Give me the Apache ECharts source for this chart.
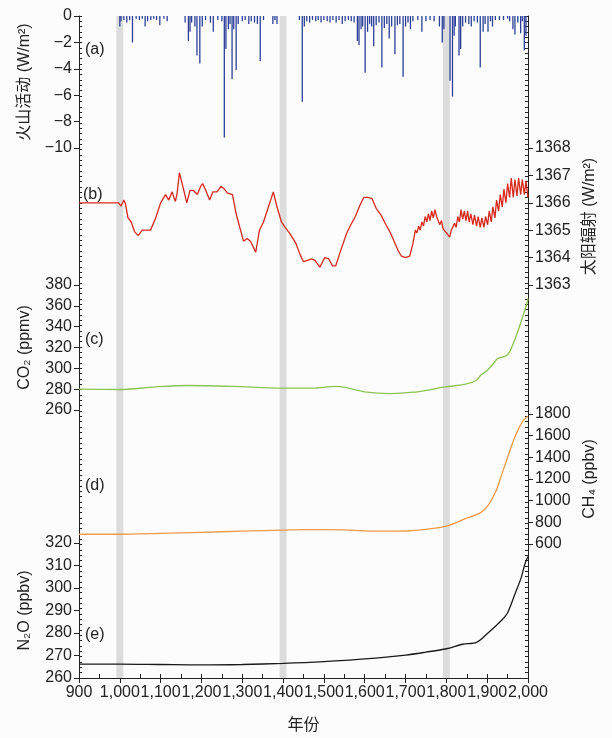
<!DOCTYPE html>
<html>
<head>
<meta charset="utf-8">
<script src="https://cdn.jsdelivr.net/npm/echarts@6/dist/echarts.min.js"></script>
<style>
  html, body { margin: 0; padding: 0; background: #fcfcfc; }
  #chart { width: 612px; height: 738px; }
</style>
</head>
<body>
<div id="chart"></div>
<script>
// (a) volcanic forcing, W/m2
var volcYears = [1000, 1003, 1010, 1017, 1024, 1031, 1040, 1048, 1055, 1062, 1068, 1076, 1083, 1090, 1098, 1108, 1116,
  1160, 1168, 1172, 1176, 1184, 1189, 1196, 1202, 1210, 1222, 1229, 1240, 1250, 1256, 1260, 1266, 1270, 1275, 1279,
  1285, 1290, 1300, 1307, 1316, 1322, 1330, 1337, 1344, 1352, 1375, 1380, 1385, 1440, 1447, 1452, 1458, 1465, 1472,
  1480, 1486, 1493, 1500, 1508, 1515, 1522, 1530, 1537, 1545, 1552, 1560, 1567, 1574, 1582, 1586, 1591, 1595, 1601,
  1607, 1612, 1617, 1622, 1628, 1635, 1642, 1648, 1654, 1660, 1666, 1674, 1680, 1686, 1694, 1700, 1706, 1712, 1718,
  1730, 1740, 1750, 1760, 1770, 1783, 1790, 1794, 1809, 1815, 1819, 1822, 1831, 1835, 1840, 1847, 1855, 1861, 1868,
  1876, 1883, 1890, 1895, 1902, 1908, 1913, 1920, 1930, 1940, 1950, 1955, 1963, 1968, 1975, 1982, 1986, 1991, 1995];
var volcVals = [-0.8, -0.4, -0.3, -0.5, -0.3, -2.0, -0.2, -0.3, -0.2, -0.8, -0.4, -0.3, -0.2, -0.3, -0.7, -0.2, -0.4,
  -0.5, -1.9, -1.2, -0.5, -0.8, -3.0, -3.6, -0.8, -0.3, -0.5, -1.2, -0.3, -0.4, -9.2, -2.5, -1.0, -0.6, -4.8, -1.0,
  -4.1, -0.6, -0.4, -0.3, -0.6, -0.4, -0.5, -0.6, -3.4, -0.3, -0.6, -0.3, -0.6, -0.3, -6.5, -0.8, -0.4, -0.5, -0.3,
  -0.4, -0.3, -0.5, -0.3, -0.4, -0.5, -0.3, -0.5, -0.3, -0.6, -0.4, -0.3, -0.4, -0.5, -1.9, -2.2, -1.0, -0.8, -4.3,
  -1.2, -0.6, -0.8, -2.3, -0.7, -0.5, -3.9, -0.9, -0.6, -1.7, -0.8, -2.9, -0.7, -0.6, -4.6, -0.8, -0.5, -1.0, -0.4,
  -0.3, -1.2, -0.4, -0.3, -0.4, -0.8, -2.0, -1.0, -4.9, -6.1, -1.5, -0.8, -3.0, -2.5, -0.8, -0.5, -0.6, -0.8, -0.4,
  -0.5, -3.9, -1.2, -0.6, -1.2, -0.4, -0.8, -0.3, -0.3, -0.3, -0.2, -0.4, -1.0, -1.4, -0.5, -1.3, -0.4, -2.6, -1.5];

// (b) solar irradiance, W/m2
var solarYears = [900, 997, 1003, 1010, 1014, 1020, 1028, 1036, 1045, 1055, 1068, 1075, 1088, 1100, 1112, 1120, 1128,
  1136, 1140, 1146, 1152, 1156, 1164, 1172, 1180, 1190, 1198, 1203, 1212, 1220, 1228, 1238, 1248, 1256, 1264, 1276,
  1285, 1294, 1303, 1312, 1320, 1333, 1342, 1352, 1363, 1376, 1386, 1396, 1405, 1418, 1432, 1442, 1450, 1460, 1470,
  1478, 1490, 1502, 1512, 1521, 1529, 1542, 1556, 1566, 1577, 1588, 1598, 1607, 1618, 1628, 1640, 1652, 1663, 1672,
  1682, 1690, 1700, 1710, 1718, 1724, 1728, 1732, 1736, 1740, 1744, 1748, 1752, 1756, 1760, 1764, 1768, 1772, 1776,
  1780, 1784, 1788, 1792, 1796, 1800, 1804, 1808, 1812, 1816, 1820, 1824, 1828, 1832, 1836, 1840, 1844, 1848, 1852,
  1856, 1860, 1865, 1869, 1874, 1878, 1883, 1887, 1892, 1896, 1901, 1905, 1910, 1914, 1919, 1923, 1928, 1932, 1937,
  1941, 1946, 1950, 1955, 1959, 1964, 1968, 1973, 1977, 1982, 1986, 1991, 1995, 2000];
var solarVals = [1366.0, 1366.0, 1365.88, 1366.1, 1365.95, 1365.45, 1365.3, 1364.95, 1364.8, 1365.0, 1365.0, 1365.0,
  1365.45, 1366.0, 1366.3, 1366.1, 1366.4, 1366.05, 1366.3, 1367.1, 1366.75, 1366.5, 1366.0, 1366.45, 1366.45, 1366.3,
  1366.6, 1366.7, 1366.4, 1366.1, 1366.4, 1366.4, 1366.6, 1366.5, 1366.35, 1366.3, 1365.6, 1365.1, 1364.6, 1364.7,
  1364.6, 1364.2, 1365.0, 1365.3, 1365.8, 1366.4, 1365.8, 1365.3, 1365.1, 1364.85, 1364.5, 1364.1, 1363.85, 1363.9,
  1363.95, 1363.9, 1363.65, 1364.0, 1363.95, 1363.7, 1363.7, 1364.3, 1364.9, 1365.2, 1365.5, 1365.9, 1366.2, 1366.2,
  1366.15, 1365.8, 1365.55, 1365.2, 1364.9, 1364.6, 1364.25, 1364.05, 1364.0, 1364.05, 1364.5, 1365.0, 1364.9, 1365.15,
  1365.0, 1365.3, 1365.15, 1365.5, 1365.3, 1365.6, 1365.35, 1365.7, 1365.45, 1365.75, 1365.5, 1365.55, 1365.2, 1365.35,
  1365.05, 1365.1, 1364.9, 1364.95, 1364.75, 1365.0, 1364.95, 1365.25, 1365.1, 1365.5, 1365.3, 1365.75, 1365.4, 1365.7,
  1365.35, 1365.7, 1365.3, 1365.6, 1365.2, 1365.55, 1365.15, 1365.5, 1365.1, 1365.45, 1365.1, 1365.5, 1365.2, 1365.7,
  1365.3, 1365.85, 1365.45, 1366.1, 1365.7, 1366.3, 1365.85, 1366.5, 1366.0, 1366.7, 1366.2, 1366.9, 1366.2, 1366.85,
  1366.25, 1366.9, 1366.3, 1366.85, 1366.3, 1366.8, 1366.2];

// (c) CO2, ppmv
var co2Years = [900, 1000, 1088, 1165, 1280, 1395, 1471, 1529, 1548, 1605, 1663, 1720, 1758, 1797, 1845, 1874, 1884,
  1898, 1912, 1926, 1945, 1955, 1967, 1979, 1988, 1996, 2000];
var co2Vals = [280.0, 279.7, 282.2, 283.5, 282.6, 281.0, 281.0, 282.6, 282.0, 277.1, 275.8, 277.1, 279.4, 282.2, 284.5,
  288.6, 293.4, 297.3, 303.0, 309.4, 311.7, 315.8, 327.0, 340.0, 351.0, 360.6, 367.0];

// (d) CH4, ppbv
var ch4Years = [900, 1000, 1100, 1200, 1300, 1400, 1450, 1500, 1550, 1600, 1650, 1700, 1750, 1800, 1845, 1884, 1902,
  1921, 1936, 1950, 1969, 1988, 2000];
var ch4Vals = [690, 690, 698, 708, 718, 728, 733, 733, 730, 722, 718, 720, 735, 765, 832, 890, 955, 1084, 1245, 1400,
  1600, 1740, 1780];

// (e) N2O, ppbv
var n2oYears = [900, 1000, 1100, 1200, 1300, 1400, 1500, 1600, 1700, 1750, 1800, 1840, 1874, 1902, 1936, 1950, 1969,
  1983, 1993, 2000];
var n2oVals = [266.2, 266.2, 266.0, 265.8, 266.0, 266.5, 267.3, 268.5, 270.2, 271.5, 273.0, 275.0, 275.8, 280.0, 285.8,
  289.0, 297.8, 304.4, 311.0, 314.0];

var bandYears = [1000, 1400, 1800];
var panelTags = ['(a)', '(b)', '(c)', '(d)', '(e)'];

function zip(xs, ys) {
  return xs.map(function (x, i) { return [x, ys[i]]; });
}

var dom = document.getElementById('chart');
var myChart = echarts.init(dom);

var ink = '#222';
var font = 'Liberation Sans, Arial, sans-serif';
var cjk = '"Noto Sans CJK SC", sans-serif';
var L = 79, R = 84;

// one grid per panel, grid 5 is the outer frame
var grids = [
  { left: L, right: R, top: 16, height: 132 },
  { left: L, right: R, top: 148, height: 137 },
  { left: L, right: R, top: 285, height: 125 },
  { left: L, right: R, top: 414, height: 130 },
  { left: L, right: R, top: 543, height: 135 },
  { left: L, right: R, top: 16, height: 662 }
];

var xAxes = [];
for (var i = 0; i < 5; i++) {
  xAxes.push({ gridIndex: i, type: 'value', min: 900, max: 2000, show: false });
}
xAxes.push({
  gridIndex: 5, type: 'value', min: 900, max: 2000, interval: 100, position: 'bottom',
  axisLine: { lineStyle: { color: ink, width: 1 } },
  axisTick: { length: 5, lineStyle: { color: ink } },
  axisLabel: { color: ink, fontSize: 16, fontFamily: font, margin: 7 },
  splitLine: { show: false },
  name: '年份', nameLocation: 'middle', nameGap: 38,
  nameTextStyle: { color: ink, fontSize: 16, fontFamily: cjk }
});
xAxes.push({
  gridIndex: 5, type: 'value', min: 900, max: 2000, interval: 50, position: 'top',
  axisLine: { lineStyle: { color: ink, width: 1 } },
  axisTick: { length: 4, lineStyle: { color: ink } },
  axisLabel: { show: false },
  splitLine: { show: false }
});

function panelY(grid, min, max, step, pos, name, gap) {
  return {
    gridIndex: grid, type: 'value', min: min, max: max, interval: step, position: pos,
    axisLine: { show: false },
    axisTick: { show: true, length: 5, lineStyle: { color: ink } },
    axisLabel: {
      color: ink, fontSize: 16, fontFamily: font, margin: 7,
      formatter: function (v) { return String(v).replace('-', '\u2212'); }
    },
    splitLine: { show: false },
    name: name, nameLocation: 'middle', nameGap: gap, nameRotate: 90,
    nameTextStyle: { color: ink, fontSize: 16, fontFamily: 'Liberation Sans, "Noto Sans CJK SC", sans-serif' }
  };
}

function frameY(pos) {
  return {
    gridIndex: 5, type: 'value', min: 0, max: 124, interval: 1, position: pos,
    axisLine: { show: true, lineStyle: { color: ink, width: 1 } },
    axisTick: { inside: true, length: 3, lineStyle: { color: ink } },
    axisLabel: { show: false },
    splitLine: { show: false }
  };
}

var yAxes = [
  panelY(0, -10, 0, 2, 'left', '火山活动 (W/m²)', 46),
  panelY(1, 1363, 1368, 1, 'right', '太阳辐射 (W/m²)', 54),
  panelY(2, 260, 380, 20, 'left', 'CO₂ (ppmv)', 46),
  panelY(3, 600, 1800, 200, 'right', 'CH₄ (ppbv)', 54),
  panelY(4, 260, 320, 10, 'left', 'N₂O (ppbv)', 46),
  frameY('left'),
  frameY('right')
];

var bandAreas = bandYears.map(function (y) {
  return [{ xAxis: y - 8.5 }, { xAxis: y + 8.5 }];
});

function lineSeries(idx, data, color, smooth) {
  return {
    type: 'line', xAxisIndex: idx, yAxisIndex: idx, data: data,
    symbol: 'none', smooth: smooth, z: 3,
    lineStyle: { color: color, width: 1.3 }
  };
}

var tagTops = [42, 187, 332, 478, 627];
var graphics = panelTags.map(function (t, i) {
  return {
    type: 'text', left: i === 1 ? 83 : 85, top: tagTops[i], z: 10,
    style: { text: t, fill: ink, font: '16px ' + font }
  };
});

option = {
  backgroundColor: '#fcfcfc',
  animation: false,
  grid: grids,
  xAxis: xAxes,
  yAxis: yAxes,
  graphic: graphics,
  series: [
    {
      type: 'line', xAxisIndex: 5, yAxisIndex: 5, data: [], z: 1,
      markArea: { silent: true, itemStyle: { color: '#dcdcdc' }, data: bandAreas }
    },
    {
      type: 'bar', xAxisIndex: 0, yAxisIndex: 0, data: zip(volcYears, volcVals),
      barWidth: 1.3, z: 3, itemStyle: { color: '#2c3f98' }
    },
    lineSeries(1, zip(solarYears, solarVals), '#d8281c', false),
    lineSeries(2, zip(co2Years, co2Vals), '#8cc451', 0.3),
    lineSeries(3, zip(ch4Years, ch4Vals), '#f09a45', 0.3),
    lineSeries(4, zip(n2oYears, n2oVals), '#1a1a1a', 0.3)
  ]
};

myChart.setOption(option, true);
</script>
</body>
</html>
